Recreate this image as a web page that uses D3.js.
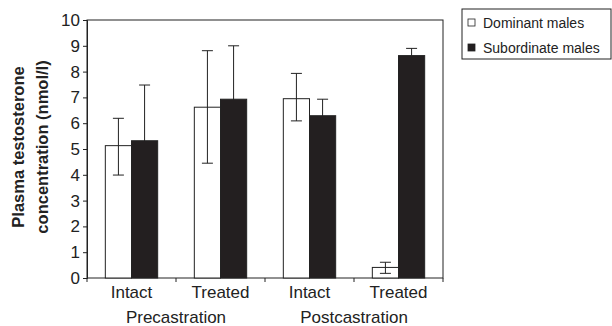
<!DOCTYPE html>
<html>
<head>
<meta charset="utf-8">
<script src="https://cdn.jsdelivr.net/npm/d3@7"></script>
<style>
  body { margin: 0; background: #fff; }
  svg { display: block; font-family: Arial, "Liberation Sans", sans-serif; }
</style>
</head>
<body>
<div id="chart"></div>
<script>
const categories = ["Intact", "Treated", "Intact", "Treated"];
const groupLabels = ["Precastration", "Postcastration"];
const seriesNames = ["Dominant males", "Subordinate males"];
const dominantMean = [5.13, 6.62, 6.95, 0.41];
const dominantUpper = [6.19, 8.81, 7.93, 0.61];
const dominantLower = [3.99, 4.45, 6.09, 0.18];
const subordinateMean = [5.32, 6.93, 6.29, 8.62];
const subordinateUpper = [7.48, 9.0, 6.93, 8.9];
const yTicks = [0, 1, 2, 3, 4, 5, 6, 7, 8, 9, 10];

const width = 612, height = 326;
const margin = { top: 20, right: 169, bottom: 48, left: 87 };
const innerW = width - margin.left - margin.right;
const innerH = height - margin.top - margin.bottom;

const svg = d3.select("#chart").append("svg")
  .attr("width", width)
  .attr("height", height);

const g = svg.append("g")
  .attr("transform", `translate(${margin.left},${margin.top})`);

const x = d3.scaleBand()
  .domain(d3.range(categories.length))
  .range([0, innerW]);

const xInner = d3.scaleBand()
  .domain([0, 1])
  .range([0, x.bandwidth()])
  .paddingOuter(0.7);

const y = d3.scaleLinear().domain([0, 10]).range([innerH, 0]);

const ink = "#222";

// frame
g.append("rect")
  .attr("width", innerW)
  .attr("height", innerH)
  .attr("fill", "none")
  .attr("stroke", ink)
  .attr("stroke-width", 1);

// y axis
const yAxis = g.append("g")
  .call(d3.axisLeft(y).tickValues(yTicks).tickSize(4).tickPadding(3))
  .call((a) => a.select(".domain").attr("stroke", ink));
yAxis.selectAll("line").attr("stroke", ink);
yAxis.selectAll("text")
  .attr("fill", ink)
  .style("font-size", "17px")
  .style("font-family", "Arial, 'Liberation Sans', sans-serif");

// x axis ticks at band boundaries
const bounds = d3.range(categories.length + 1).map((i) =>
  i < categories.length ? x(i) : innerW);
g.selectAll(".xtick")
  .data(bounds)
  .join("line")
  .attr("class", "xtick")
  .attr("x1", (d) => d).attr("x2", (d) => d)
  .attr("y1", innerH).attr("y2", innerH + 4)
  .attr("stroke", ink);

g.selectAll(".xlabel")
  .data(categories)
  .join("text")
  .attr("class", "xlabel")
  .attr("x", (d, i) => x(i) + x.bandwidth() / 2)
  .attr("y", innerH + 20)
  .attr("text-anchor", "middle")
  .attr("fill", ink)
  .style("font-size", "17px")
  .text((d) => d);

g.selectAll(".glabel")
  .data(groupLabels)
  .join("text")
  .attr("class", "glabel")
  .attr("x", (d, i) => x(i * 2) + x.bandwidth())
  .attr("y", innerH + 45)
  .attr("text-anchor", "middle")
  .attr("fill", ink)
  .style("font-size", "17px")
  .text((d) => d);

// error bars (drawn first so filled bars hide lower whiskers)
const cap = 5.5;
function errorBar(sel, cx, lo, hi) {
  sel.append("line")
    .attr("x1", cx).attr("x2", cx)
    .attr("y1", y(lo)).attr("y2", y(hi))
    .attr("stroke", ink);
  [lo, hi].forEach((v) => {
    sel.append("line")
      .attr("x1", cx - cap).attr("x2", cx + cap)
      .attr("y1", y(v)).attr("y2", y(v))
      .attr("stroke", ink);
  });
}

const groups = g.selectAll(".grp")
  .data(categories)
  .join("g")
  .attr("class", "grp")
  .attr("transform", (d, i) => `translate(${x(i)},0)`);

groups.each(function (d, i) {
  const sel = d3.select(this);
  const cx0 = xInner(0) + xInner.bandwidth() / 2;
  const cx1 = xInner(1) + xInner.bandwidth() / 2;
  errorBar(sel, cx1, 2 * subordinateMean[i] - subordinateUpper[i], subordinateUpper[i]);
  sel.append("rect")
    .attr("x", xInner(1))
    .attr("y", y(subordinateMean[i]))
    .attr("width", xInner.bandwidth())
    .attr("height", innerH - y(subordinateMean[i]))
    .attr("fill", "#231f20")
    .attr("stroke", ink);
  sel.append("rect")
    .attr("x", xInner(0))
    .attr("y", y(dominantMean[i]))
    .attr("width", xInner.bandwidth())
    .attr("height", innerH - y(dominantMean[i]))
    .attr("fill", "#fff")
    .attr("stroke", ink);
  errorBar(sel, cx0, dominantLower[i], dominantUpper[i]);
});

// y title
const yTitle = svg.append("text")
  .attr("transform", `translate(0,147) rotate(-90)`)
  .attr("text-anchor", "middle")
  .attr("fill", ink)
  .style("font-size", "16.5px")
  .style("font-weight", "bold");
yTitle.append("tspan").attr("x", 0).attr("y", 24).text("Plasma testosterone");
yTitle.append("tspan").attr("x", 0).attr("y", 48).text("concentration (nmol/l)");

// legend
const legend = svg.append("g").attr("transform", "translate(462,9)");
legend.append("rect")
  .attr("width", 149)
  .attr("height", 50)
  .attr("fill", "#fff")
  .attr("stroke", ink);
const items = legend.selectAll(".item")
  .data(seriesNames)
  .join("g")
  .attr("class", "item")
  .attr("transform", (d, i) => `translate(6,${14 + i * 25})`);
items.append("rect")
  .attr("x", 0).attr("y", -4)
  .attr("width", 7).attr("height", 7)
  .attr("fill", (d, i) => (i === 0 ? "#fff" : "#231f20"))
  .attr("stroke", ink)
  .attr("stroke-width", 0.8);
items.append("text")
  .attr("x", 15)
  .attr("y", 4.5)
  .attr("fill", ink)
  .style("font-size", "14px")
  .text((d) => d);
</script>
</body>
</html>
